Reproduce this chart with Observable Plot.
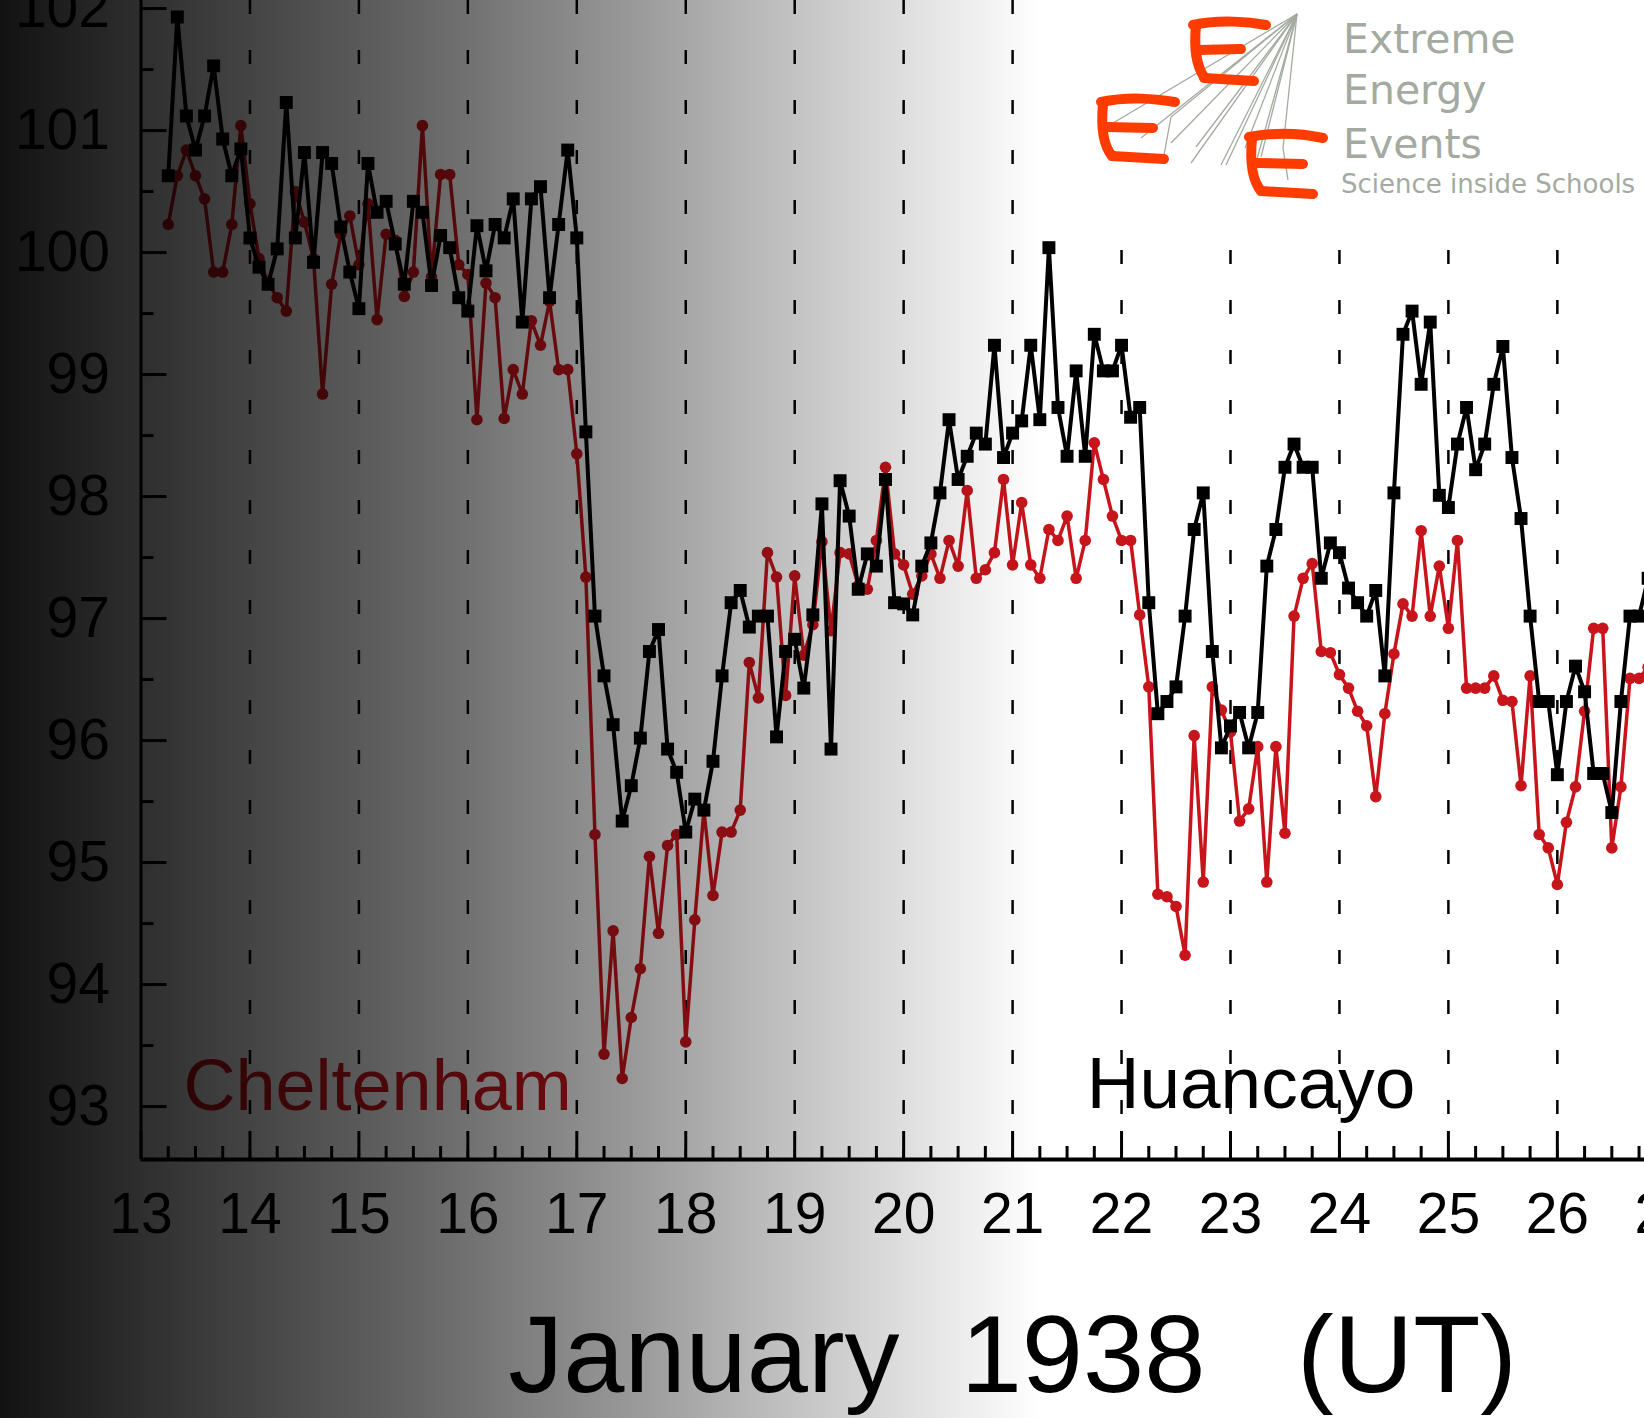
<!DOCTYPE html>
<html>
<head>
<meta charset="utf-8">
<script src="https://cdn.jsdelivr.net/npm/d3@7"></script>
<script src="https://cdn.jsdelivr.net/npm/@observablehq/plot@0.6"></script>
<style>
  html, body { margin: 0; padding: 0; background: #fff; }
  #wrap { position: relative; width: 1644px; height: 1418px; overflow: hidden; }
  #logo { position: absolute; left: 1040px; top: 0; }
</style>
</head>
<body>
<div id="wrap">
  <div id="chart"></div>
  <svg id="logo" width="604" height="235" viewBox="0 0 604 235">
    <rect width="604" height="235" fill="#fff"/>
    <g transform="translate(50,0)">
      <g stroke="#a3aa9f" stroke-width="1.3" fill="none">
        <path d="M207,14 L23,123"/><path d="M207,14 L51,138"/><path d="M207,14 L81,117 L74,155"/>
        <path d="M207,14 L81,143"/><path d="M207,14 L101,163"/><path d="M207,14 L106,147"/>
        <path d="M207,14 L131,165"/><path d="M207,14 L136,165"/><path d="M207,14 L155,148"/>
        <path d="M207,14 L164,170"/><path d="M207,14 L171,157"/><path d="M207,14 L193,148 L198,180"/>
      </g>
      <g stroke="#ff3c00" stroke-width="10" stroke-linecap="round" fill="none">
        <path d="M103,25 C130,19 160,22 176,25"/>
        <path d="M106,26 C104,45 106,65 114,77"/>
        <path d="M108,50 L151,49"/>
        <path d="M114,78 L164,81"/>
        <path d="M11,102 C40,96 65,99 85,102"/>
        <path d="M13,104 C11,125 13,145 22,156"/>
        <path d="M17,127 L63,128"/>
        <path d="M22,156 L74,159"/>
        <path d="M159,137 C190,131 215,134 233,138"/>
        <path d="M162,139 C160,160 162,180 171,191"/>
        <path d="M166,163 L213,164"/>
        <path d="M171,191 L223,194"/>
      </g>
      <g fill="#a3aa9f" font-family="DejaVu Sans, Verdana, sans-serif">
        <text x="253" y="53" font-size="41">Extreme</text>
        <text x="253" y="104" font-size="41">Energy</text>
        <text x="253" y="158" font-size="41">Events</text>
        <text x="251" y="193" font-size="26" letter-spacing="0">Science inside Schools</text>
      </g>
    </g>
  </svg>
</div>
<script>
// Time grid: bi-hourly samples starting 13 Jan 1938, 06 UT
const startDay = 13.25;
const stepDays = 2 / 24;

// Huancayo (black, squares)
const huancayo = [
  100.63, 101.93, 101.12, 100.84, 101.12, 101.53, 100.93, 100.63, 100.85, 100.12,
  99.88, 99.74, 100.03, 101.23, 100.12, 100.82, 99.92, 100.82, 100.73, 100.21,
  99.84, 99.54, 100.73, 100.33, 100.42, 100.07, 99.74, 100.42, 100.33, 99.73,
  100.14, 100.04, 99.63, 99.52, 100.22, 99.85, 100.23, 100.12, 100.44, 99.43,
  100.44, 100.54, 99.63, 100.23, 100.84, 100.12, 98.53, 97.02, 96.53, 96.13,
  95.34, 95.63, 96.02, 96.73, 96.91, 95.93, 95.74, 95.25, 95.52, 95.43,
  95.83, 96.53, 97.13, 97.23, 96.93, 97.02, 97.02, 96.03, 96.73, 96.83,
  96.43, 97.03, 97.94, 95.93, 98.13, 97.84, 97.24, 97.53, 97.43, 98.14,
  97.13, 97.12, 97.03, 97.43, 97.62, 98.03, 98.63, 98.14, 98.33, 98.52,
  98.43, 99.24, 98.32, 98.52, 98.62, 99.24, 98.63, 100.04, 98.73, 98.33,
  99.03, 98.33, 99.33, 99.03, 99.03, 99.24, 98.65, 98.73, 97.13, 96.22,
  96.32, 96.44, 97.02, 97.73, 98.03, 96.73, 95.94, 96.12, 96.23, 95.94,
  96.23, 97.43, 97.73, 98.24, 98.43, 98.24, 98.24, 97.33, 97.62, 97.54,
  97.25, 97.13, 97.02, 97.23, 96.53, 98.03, 99.33, 99.52, 98.92, 99.43,
  98.01, 97.91, 98.43, 98.73, 98.22, 98.43, 98.92, 99.23, 98.32, 97.82,
  97.02, 96.32, 96.32, 95.72, 96.32, 96.61, 96.40, 95.73, 95.73, 95.41,
  96.32, 97.02, 97.02, 97.33
];

// Cheltenham (red, circles)
const cheltenham = [
  100.23, 100.63, 100.84, 100.63, 100.44, 99.84, 99.84, 100.23, 101.04, 100.4,
  99.95, 99.75, 99.63, 99.52, 100.5, 100.25, 99.95, 98.84, 99.74, 100.15,
  100.3, 99.9, 100.4, 99.45, 100.15, 100.1, 99.64, 99.84, 101.04, 99.8,
  100.64, 100.64, 99.9, 99.82, 98.63, 99.75, 99.63, 98.64, 99.04, 98.84,
  99.44, 99.24, 99.6, 99.04, 99.04, 98.35, 97.34, 95.23, 93.43, 94.44,
  93.23, 93.73, 94.13, 95.05, 94.42, 95.14, 95.23, 93.53, 94.53, 95.43,
  94.73, 95.25, 95.25, 95.43, 96.64, 96.35, 97.54, 97.34, 96.37, 97.35,
  96.7, 96.95, 97.63, 96.9, 97.54, 97.53, 97.27, 97.24, 97.64, 98.24,
  97.53, 97.44, 97.2, 97.35, 97.53, 97.33, 97.64, 97.43, 98.05, 97.33,
  97.40, 97.54, 98.14, 97.44, 97.95, 97.44, 97.33, 97.73, 97.64, 97.84,
  97.33, 97.64, 98.44, 98.14, 97.84, 97.64, 97.64, 97.03, 96.44, 94.74,
  94.72, 94.64, 94.24, 96.04, 94.84, 96.44, 96.25, 96.07, 95.34, 95.44,
  95.95, 94.84, 95.95, 95.24, 97.02, 97.33, 97.45, 96.73, 96.72, 96.54,
  96.43, 96.24, 96.12, 95.54, 96.22, 96.71, 97.12, 97.02, 97.72, 97.02,
  97.43, 96.92, 97.64, 96.43, 96.43, 96.43, 96.53, 96.33, 96.32, 95.63,
  96.53, 95.23, 95.12, 94.82, 95.33, 95.62, 96.24, 96.92, 96.92, 95.12,
  95.62, 96.51, 96.51, 96.6
];

// Tick labels
const xTickDays = [13, 14, 15, 16, 17, 18, 19, 20, 21, 22, 23, 24, 25, 26, 27];
const dashedDays = [14, 15, 16, 17, 18, 19, 20, 21, 22, 23, 24, 25, 26];
const yTickValues = [93, 94, 95, 96, 97, 98, 99, 100, 101, 102];
const yHalfTicks = [93.5, 94.5, 95.5, 96.5, 97.5, 98.5, 99.5, 100.5, 101.5];
const xQuarterTicks = d3.range(13.25, 27, 0.25).filter(d => d % 1 !== 0);

const stationLabels = ["Cheltenham", "Huancayo"];
const axisTitle = "January\u00a0\u00a01938\u00a0\u00a0\u00a0(UT)";

const toRows = arr => arr.map((v, i) => ({t: startDay + i * stepDays, v}));
const hRows = toRows(huancayo);
const cRows = toRows(cheltenham);

const xDomain = [13, 26.8];
const yDomain = [92.566, 102.066];
const redColor = "#c8141b";

const chart = Plot.plot({
  width: 1644,
  height: 1418,
  marginLeft: 140.5,
  marginRight: 0,
  marginTop: 0,
  marginBottom: 259,
  x: {domain: xDomain},
  y: {domain: yDomain},
  style: {background: "#fff", fontFamily: "'Liberation Sans', Arial, Helvetica, sans-serif", color: "#000"},
  marks: [
    Plot.ruleX(dashedDays, {stroke: "#000", strokeWidth: 2.5, strokeDasharray: "14 36"}),
    Plot.axisY({ticks: yTickValues, tickSize: 0, tickPadding: 31, fontSize: 57, label: null, tickFormat: d => String(d)}),
    Plot.axisY({ticks: yTickValues, tickSize: -26, text: null, label: null, strokeWidth: 3}),
    Plot.axisY({ticks: yHalfTicks, tickSize: -13, text: null, label: null, strokeWidth: 3}),
    Plot.axisX({ticks: xTickDays, tickSize: 0, tickPadding: 33, fontSize: 57, label: null, tickFormat: d => String(d)}),
    Plot.axisX({ticks: xTickDays, tickSize: -28, text: null, label: null, strokeWidth: 3}),
    Plot.axisX({ticks: xQuarterTicks, tickSize: -13, text: null, label: null, strokeWidth: 3}),
    Plot.ruleX([xDomain[0]], {stroke: "#000", strokeWidth: 3}),
    Plot.ruleY([yDomain[0]], {stroke: "#000", strokeWidth: 4}),
    Plot.line(cRows, {x: "t", y: "v", stroke: redColor, strokeWidth: 3.5, clip: true}),
    Plot.dot(cRows, {x: "t", y: "v", r: 5.8, fill: redColor, stroke: "none", clip: true}),
    Plot.line(hRows, {x: "t", y: "v", stroke: "#000", strokeWidth: 4, clip: true}),
    Plot.dot(hRows, {x: "t", y: "v", r: 7.3, symbol: "square", fill: "#000", stroke: "none", clip: true}),
    Plot.text([stationLabels[0]], {x: 13.39, y: 92.97, text: d => d, textAnchor: "start", lineAnchor: "bottom", fontSize: 72, fill: redColor}),
    Plot.text([stationLabels[1]], {x: 21.68, y: 92.985, text: d => d, textAnchor: "start", lineAnchor: "bottom", fontSize: 73, fill: "#000"}),
    Plot.text([axisTitle], {x: 21.0, frameAnchor: "bottom", dy: 232, text: d => d, textAnchor: "middle", lineAnchor: "bottom", fontSize: 110, fill: "#000"})
  ]
});

// Dark left-to-right shading laid over the whole picture
const svg = d3.select(chart);
const grad = svg.append("defs").append("linearGradient")
  .attr("id", "shade").attr("gradientUnits", "userSpaceOnUse")
  .attr("x1", 0).attr("y1", 0).attr("x2", 1040).attr("y2", 0);
[[0, 0.93], [0.135, 0.82], [0.405, 0.60], [0.61, 0.40], [0.74, 0.26], [0.88, 0.12], [1, 0]].forEach(([o, a]) => {
  grad.append("stop").attr("offset", o).attr("stop-color", "#000").attr("stop-opacity", a);
});
svg.append("rect").attr("x", 0).attr("y", 0).attr("width", 1644).attr("height", 1418)
  .attr("fill", "url(#shade)").attr("pointer-events", "none");

document.getElementById("chart").appendChild(chart);
</script>
</body>
</html>
